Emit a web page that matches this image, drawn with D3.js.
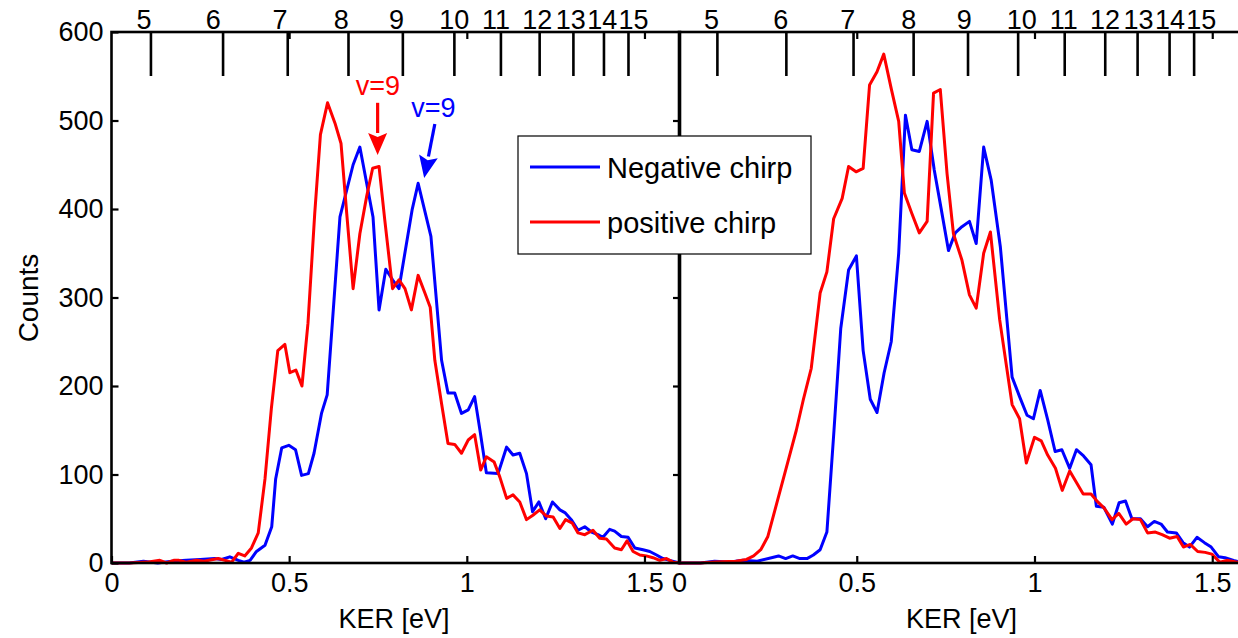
<!DOCTYPE html>
<html>
<head>
<meta charset="utf-8">
<script src="https://cdn.jsdelivr.net/npm/d3@7"></script>
<style>
  html, body { margin: 0; padding: 0; background: #fff; }
  svg { display: block; font-family: "Liberation Sans", Arial, sans-serif; }
</style>
</head>
<body>
<svg id="chart" width="1238" height="638"></svg>
<script>
// ---- axis ticks and labels ----
const xTicks = [0, 0.5, 1, 1.5];
const yTicks = [0, 100, 200, 300, 400, 500, 600];
const vLevels = [5, 6, 7, 8, 9, 10, 11, 12, 13, 14, 15];
// KER where each vibrational-level label sits on the top edge
const vLabelKER = [0.090, 0.285, 0.473, 0.645, 0.801, 0.963, 1.081, 1.197, 1.291, 1.380, 1.468];
// KER of the vibrational-level marker lines in each panel
const vLineKERLeft = [0.111, 0.314, 0.496, 0.667, 0.820, 0.965, 1.096, 1.205, 1.300, 1.386, 1.455];
const vLineKERRight = [0.108, 0.302, 0.491, 0.660, 0.813, 0.954, 1.085, 1.199, 1.290, 1.380, 1.449];

const seriesNames = ["Negative chirp", "positive chirp"];
const seriesColors = ["#0000ff", "#ff0000"];

// ---- left panel: [KER (eV), counts] ----
const negLeft = [
  [0, 0], [0.05, 0], [0.09, 2], [0.13, 0], [0.17, 2], [0.21, 3], [0.25, 4], [0.29, 5], [0.31, 4],
  [0.333, 7], [0.357, 3], [0.373, 1], [0.39, 3], [0.408, 13], [0.432, 20], [0.451, 41], [0.462, 95],
  [0.479, 130], [0.499, 133], [0.518, 128], [0.535, 99], [0.554, 101], [0.57, 124], [0.591, 169],
  [0.607, 190], [0.643, 391], [0.68, 450], [0.699, 470], [0.736, 391], [0.753, 286], [0.772, 332],
  [0.791, 320], [0.809, 310], [0.846, 399], [0.863, 429], [0.899, 369], [0.929, 229], [0.947, 192],
  [0.966, 192], [0.985, 169], [1.004, 173], [1.022, 188], [1.037, 150], [1.055, 102], [1.088, 101],
  [1.112, 131], [1.13, 122], [1.149, 124], [1.168, 101], [1.185, 58], [1.203, 69], [1.222, 50],
  [1.241, 69], [1.262, 60], [1.276, 57], [1.294, 49], [1.313, 37], [1.332, 41], [1.351, 35],
  [1.369, 32], [1.383, 29], [1.402, 38], [1.416, 36], [1.435, 30], [1.454, 29], [1.473, 17],
  [1.496, 15], [1.515, 13], [1.534, 9], [1.552, 5], [1.571, 3], [1.59, 1], [1.6, 0]
];
const posLeft = [
  [0, 0], [0.05, 0], [0.1, 1], [0.136, 3], [0.155, 0], [0.175, 3], [0.19, 3], [0.21, 1], [0.24, 3],
  [0.26, 2], [0.30, 5], [0.338, 1], [0.357, 11], [0.375, 8], [0.394, 17], [0.413, 34], [0.432, 95],
  [0.45, 175], [0.468, 240], [0.488, 247], [0.502, 215], [0.519, 218], [0.536, 200], [0.553, 271],
  [0.572, 395], [0.588, 484], [0.608, 520], [0.629, 497], [0.646, 474], [0.662, 395], [0.68, 310],
  [0.699, 372], [0.718, 414], [0.735, 446], [0.753, 448], [0.769, 388], [0.791, 310], [0.809, 320],
  [0.826, 310], [0.844, 286], [0.863, 325], [0.882, 305], [0.897, 289], [0.91, 229], [0.929, 180],
  [0.947, 135], [0.966, 134], [0.985, 124], [1.004, 139], [1.022, 145], [1.039, 105], [1.055, 120],
  [1.077, 114], [1.093, 97], [1.112, 73], [1.13, 77], [1.149, 69], [1.168, 49], [1.186, 54],
  [1.205, 60], [1.224, 53], [1.243, 52], [1.262, 39], [1.278, 49], [1.297, 45], [1.313, 34],
  [1.332, 32], [1.355, 37], [1.374, 28], [1.393, 27], [1.416, 17], [1.435, 15], [1.451, 25],
  [1.468, 13], [1.487, 9], [1.505, 8], [1.524, 6], [1.543, 3], [1.562, 5], [1.58, 1], [1.6, 0]
];

// ---- right panel: [KER (eV), counts] ----
const negRight = [
  [0, 0], [0.06, 0], [0.1, 2], [0.14, 1], [0.18, 3], [0.22, 2], [0.26, 6], [0.28, 8], [0.30, 5],
  [0.32, 8], [0.34, 5], [0.36, 5], [0.378, 9], [0.397, 15], [0.416, 35], [0.436, 150], [0.455, 265],
  [0.477, 331], [0.499, 347], [0.518, 240], [0.538, 185], [0.557, 170], [0.577, 215], [0.597, 250],
  [0.618, 350], [0.637, 506], [0.655, 467], [0.676, 465], [0.698, 499], [0.718, 444], [0.738, 399],
  [0.758, 353], [0.777, 373], [0.796, 380], [0.817, 386], [0.836, 361], [0.857, 470], [0.878, 433],
  [0.904, 357], [0.937, 210], [0.958, 188], [0.979, 167], [0.997, 163], [1.016, 195], [1.037, 162],
  [1.058, 126], [1.077, 128], [1.099, 107], [1.118, 128], [1.138, 121], [1.159, 111], [1.174, 64],
  [1.195, 63], [1.219, 44], [1.238, 68], [1.256, 70], [1.274, 50], [1.298, 50], [1.318, 41],
  [1.337, 47], [1.356, 44], [1.374, 35], [1.399, 34], [1.418, 23], [1.436, 18], [1.457, 29],
  [1.478, 23], [1.497, 18], [1.518, 7], [1.536, 6], [1.56, 3], [1.58, 1], [1.6, 0]
];
const posRight = [
  [0, 0], [0.06, 0], [0.1, 1], [0.16, 2], [0.19, 4], [0.21, 8], [0.23, 15], [0.25, 30], [0.27, 60],
  [0.29, 90], [0.31, 120], [0.33, 150], [0.35, 185], [0.372, 220], [0.397, 305], [0.416, 329], [0.435, 389],
  [0.459, 412], [0.477, 448], [0.498, 442], [0.518, 446], [0.536, 540], [0.557, 555], [0.576, 575],
  [0.597, 536], [0.618, 499], [0.634, 418], [0.655, 395], [0.676, 373], [0.698, 386], [0.716, 531],
  [0.735, 535], [0.754, 440], [0.772, 372], [0.796, 342], [0.817, 303], [0.836, 288], [0.857, 350],
  [0.876, 374], [0.902, 275], [0.937, 179], [0.958, 163], [0.977, 113], [1.0, 142], [1.019, 138],
  [1.037, 122], [1.059, 107], [1.078, 82], [1.099, 104], [1.118, 91], [1.137, 78], [1.159, 78],
  [1.178, 69], [1.196, 62], [1.218, 49], [1.237, 56], [1.258, 44], [1.277, 50], [1.298, 49],
  [1.318, 34], [1.34, 35], [1.359, 32], [1.38, 28], [1.401, 30], [1.419, 18], [1.438, 21],
  [1.459, 13], [1.48, 12], [1.499, 10], [1.521, 1], [1.541, 3], [1.57, 1], [1.6, 0]
];

// ---- annotation arrows (left panel), in data units ----
const annotations = [
  { text: "v=9", color: "#ff0000", label: [0.75, 529], from: [0.749, 520], to: [0.749, 461] },
  { text: "v=9", color: "#0000ff", label: [0.906, 504], from: [0.910, 496], to: [0.880, 435] }
];

// ---- layout ----
const svg = d3.select("#chart");
const plotTop = 32, plotBottom = 563;
const FONT = 27;
const xDomain = [0, 1.6];
const y = d3.scaleLinear().domain([0, 600]).range([plotBottom, plotTop]);

const panels = [
  { x0: 111.5, x1: 680, neg: negLeft, pos: posLeft, vLines: vLineKERLeft, yLabels: true, annot: true },
  { x0: 679, x1: 679 + 1.6 * 355.5, neg: negRight, pos: posRight, vLines: vLineKERRight, yLabels: false, annot: false }
];

function styleAxis(g) {
  g.selectAll(".domain").remove();
  g.selectAll(".tick line").attr("stroke", "#000").attr("stroke-width", 2.2);
  g.selectAll(".tick text").attr("fill", "#000").attr("font-size", FONT).attr("font-family", "Liberation Sans, Arial, sans-serif");
}

panels.forEach((p) => {
  const x = d3.scaleLinear().domain(xDomain).range([p.x0, p.x1]);
  const g = svg.append("g");

  // data lines
  const line = d3.line().x(d => x(d[0])).y(d => y(d[1]));
  [p.neg, p.pos].forEach((s, i) => {
    g.append("path").datum(s)
      .attr("fill", "none")
      .attr("stroke", seriesColors[i])
      .attr("stroke-width", 3)
      .attr("stroke-linejoin", "round")
      .attr("d", line);
  });

  // bottom axis (ticks pointing inward)
  const xb = g.append("g").attr("transform", `translate(0,${plotBottom})`)
    .call(d3.axisBottom(x).tickValues(xTicks).tickSizeInner(-7).tickSizeOuter(0).tickPadding(10)
      .tickFormat(d3.format("~g")));
  styleAxis(xb);

  // top axis: mirrored ticks
  const xt = g.append("g").attr("transform", `translate(0,${plotTop})`)
    .call(d3.axisTop(x).tickValues(xTicks.filter(d => d > 0)).tickSizeInner(-7).tickSizeOuter(0).tickFormat(""));
  styleAxis(xt);

  // top axis: vibrational level labels
  const xv = g.append("g").attr("transform", `translate(0,${plotTop})`)
    .call(d3.axisTop(x).tickValues(vLabelKER).tickSize(0).tickPadding(3)
      .tickFormat((d, i) => vLevels[i]));
  styleAxis(xv);

  // vibrational level marker lines
  g.selectAll(".vline").data(p.vLines).join("line")
    .attr("class", "vline")
    .attr("x1", d => x(d)).attr("x2", d => x(d))
    .attr("y1", plotTop).attr("y2", plotTop + 44)
    .attr("stroke", "#000").attr("stroke-width", 2.6);

  // left / right y axes
  if (p.yLabels) {
    const yl = g.append("g").attr("transform", `translate(${p.x0},0)`)
      .call(d3.axisLeft(y).tickValues(yTicks).tickSizeInner(-7).tickSizeOuter(0).tickPadding(8));
    styleAxis(yl);
    const yr = g.append("g").attr("transform", `translate(${p.x1},0)`)
      .call(d3.axisRight(y).tickValues(yTicks.filter(d => d > 0 && d < 600)).tickSizeInner(-7).tickSizeOuter(0).tickFormat(""));
    styleAxis(yr);
  }

  // frame
  g.append("rect")
    .attr("x", p.x0).attr("y", plotTop)
    .attr("width", p.x1 - p.x0).attr("height", plotBottom - plotTop)
    .attr("fill", "none").attr("stroke", "#000").attr("stroke-width", 2.6);

  // x label
  g.append("text")
    .attr("x", p.x0 + 0.8 * 355.5 - 2)
    .attr("y", 628)
    .attr("text-anchor", "middle")
    .attr("font-size", FONT)
    .text("KER [eV]");

  // annotations
  if (p.annot) {
    annotations.forEach(a => {
      g.append("text")
        .attr("x", x(a.label[0])).attr("y", y(a.label[1]))
        .attr("text-anchor", "middle")
        .attr("fill", a.color)
        .attr("font-size", FONT)
        .text(a.text);
      const x1 = x(a.from[0]), y1 = y(a.from[1]);
      const x2 = x(a.to[0]), y2 = y(a.to[1]);
      const ang = Math.atan2(y2 - y1, x2 - x1);
      const headLen = 22, headHalf = 9.5;
      const bx = x2 - headLen * Math.cos(ang), by = y2 - headLen * Math.sin(ang);
      g.append("line")
        .attr("x1", x1).attr("y1", y1).attr("x2", bx).attr("y2", by)
        .attr("stroke", a.color).attr("stroke-width", 3.2);
      const nx = -Math.sin(ang), ny = Math.cos(ang);
      const notch = 4;
      const nxp = bx + notch * Math.cos(ang), nyp = by + notch * Math.sin(ang);
      g.append("path")
        .attr("d", `M${x2},${y2}L${bx + headHalf * nx},${by + headHalf * ny}L${nxp},${nyp}L${bx - headHalf * nx},${by - headHalf * ny}Z`)
        .attr("fill", a.color);
    });
  }
});

// y label
svg.append("text")
  .attr("transform", `translate(38,298) rotate(-90)`)
  .attr("text-anchor", "middle")
  .attr("font-size", 28)
  .text("Counts");

// legend
const lg = svg.append("g");
lg.append("rect")
  .attr("x", 518).attr("y", 136).attr("width", 293).attr("height", 118)
  .attr("fill", "#fff").attr("stroke", "#000").attr("stroke-width", 1.2);
seriesNames.forEach((name, i) => {
  const yy = 167 + i * 55;
  lg.append("line")
    .attr("x1", 530).attr("x2", 600).attr("y1", yy).attr("y2", yy)
    .attr("stroke", seriesColors[i]).attr("stroke-width", 3);
  lg.append("text")
    .attr("x", 607).attr("y", yy + 11)
    .attr("font-size", 29)
    .text(name);
});
</script>
</body>
</html>
